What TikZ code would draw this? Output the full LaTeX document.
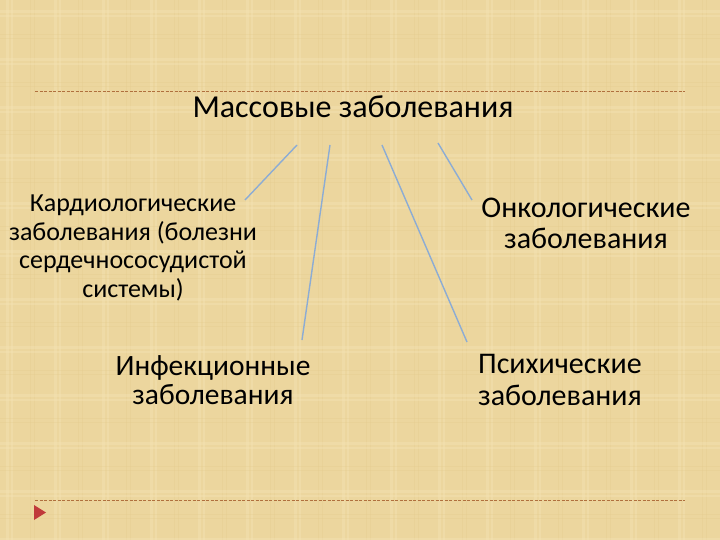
\documentclass[tikz,border=0pt]{standalone}
\usepackage{fontspec}
\setmainfont{Carlito}
\usepackage{tikz}
\usetikzlibrary{positioning}
\usetikzlibrary{arrows.meta}
\definecolor{paper}{RGB}{236,214,158}
\definecolor{paperlight}{RGB}{246,230,184}
\definecolor{paperdark}{RGB}{226,200,138}
\definecolor{rulebrown}{RGB}{176,112,62}
\definecolor{linkblue}{RGB}{140,172,212}
\definecolor{bulletred}{RGB}{192,58,58}
\tikzset{
  link/.style = {draw=linkblue, line width=1.4pt},
  rule/.style = {draw=rulebrown, line width=0.6pt, dash pattern=on 3pt off 1.5pt},
  disease/.style = {align=center, inner sep=0pt, text=black, font=\fontsize{29.5}{29.5}\selectfont},
}

\begin{document}
\begin{tikzpicture}[x=1pt, y=-1pt]
    \useasboundingbox (0,0) rectangle (720,540);
    \fill [paper] (0,0) rectangle (720,540);
    %% Texture
    \foreach \x in {0,48,...,720} {
      \fill [paperlight, opacity=0.35] (\x+6,0) rectangle (\x+9,540);
      \fill [paperlight, opacity=0.35] (\x+11,0) rectangle (\x+13,540);
      \fill [paperdark, opacity=0.25] (\x+30,0) rectangle (\x+31,540);
      \fill [paperdark, opacity=0.25] (\x+34,0) rectangle (\x+35,540);
    }
    \foreach \y in {0,48,...,540} {
      \fill [paperlight, opacity=0.35] (0,\y+10) rectangle (720,\y+13);
      \fill [paperlight, opacity=0.35] (0,\y+15) rectangle (720,\y+17);
      \fill [paperdark, opacity=0.25] (0,\y+34) rectangle (720,\y+35);
      \fill [paperdark, opacity=0.25] (0,\y+38) rectangle (720,\y+39);
    }
    \draw [rule] (35,91) -- (685,91);
    \draw [rule] (35,500) -- (685,500);
    \fill [bulletred] (34,505) -- (46,512.5) -- (34,520) -- cycle;
    %% Nodes
    \node [disease, font=\fontsize{32}{36}\selectfont] (Mass) at (353,107) {Массовые заболевания};
    \node [disease, font=\fontsize{26}{28.5}\selectfont] (Cardio) at (133,248) {Кардиологические\\заболевания (болезни\\сердечнососудистой\\системы)};
    \node [disease] (Infect) at (213,380) {Инфекционные\\заболевания};
    \node [disease, font=\fontsize{30}{31}\selectfont] (Onco) at (586,223) {Онкологические\\заболевания};
    \node [disease, font=\fontsize{30}{32}\selectfont, align=left] (Psych) at (560,380) {Психические\\заболевания};
    %% Links
    \coordinate (A) at (297,145);
    \coordinate (B) at (330,145);
    \coordinate (C) at (382,145);
    \coordinate (D) at (438,143);
    \coordinate (Aend) at (245,200);
    \coordinate (Bend) at (302,340);
    \coordinate (Cend) at (467,342);
    \coordinate (Dend) at (472,200);
    \path [link] (A) -- (Aend);
    \path [link] (B) -- (Bend);
    \path [link] (C) -- (Cend);
    \path [link] (D) -- (Dend);
\end{tikzpicture}
\end{document}
